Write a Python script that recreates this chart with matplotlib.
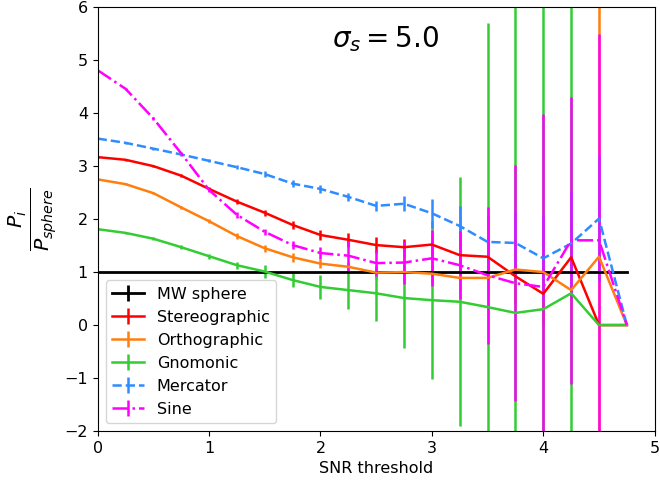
import numpy as np
from matplotlib import pyplot as plt

plt.rcParams["font.size"] = 11.5

# SNR thresholds
snr = [0.0, 0.25, 0.5, 0.75, 1.0, 1.25, 1.5, 1.75, 2.0, 2.25,
       2.5, 2.75, 3.0, 3.25, 3.5, 3.75, 4.0, 4.25, 4.5, 4.75]

# Ratio P_i / P_sphere for each projection
sphere = [1.0] * len(snr)
sphere_err = [0.0] * len(snr)

stereo = [3.17, 3.12, 3.00, 2.82, 2.57, 2.33, 2.12, 1.89, 1.70, 1.61,
          1.51, 1.47, 1.52, 1.32, 1.29, 0.92, 0.59, 1.28, 0.0, 0.0]
stereo_err = [0.01, 0.02, 0.02, 0.03, 0.04, 0.05, 0.06, 0.08, 0.10, 0.13,
              0.15, 0.16, 0.20, 0.25, 0.30, 0.50, 0.60, 0.70, 0.0, 0.0]

ortho = [2.75, 2.66, 2.49, 2.22, 1.96, 1.68, 1.45, 1.28, 1.16, 1.10,
         0.99, 1.00, 0.97, 0.89, 0.89, 1.05, 1.00, 0.66, 1.29, 0.0]
ortho_err = [0.01, 0.02, 0.02, 0.03, 0.04, 0.05, 0.07, 0.08, 0.09, 0.10,
             0.12, 0.14, 0.18, 0.22, 0.30, 0.40, 0.60, 0.80, 5.5, 0.0]

gnomo = [1.81, 1.74, 1.63, 1.47, 1.30, 1.13, 1.01, 0.85, 0.72, 0.66,
         0.60, 0.51, 0.47, 0.44, 0.34, 0.23, 0.30, 0.60, 0.0, 0.0]
gnomo_err = [0.01, 0.02, 0.03, 0.04, 0.05, 0.07, 0.12, 0.13, 0.23, 0.35,
             0.52, 0.95, 1.49, 2.35, 5.36, 6.5, 7.0, 6.5, 0.0, 0.0]

merc = [3.52, 3.44, 3.33, 3.22, 3.10, 2.98, 2.85, 2.67, 2.57, 2.42,
        2.25, 2.29, 2.11, 1.87, 1.57, 1.55, 1.26, 1.54, 2.01, 0.0]
merc_err = [0.01, 0.02, 0.02, 0.03, 0.03, 0.04, 0.05, 0.06, 0.07, 0.08,
            0.09, 0.14, 0.27, 0.37, 0.50, 0.60, 0.80, 1.00, 1.20, 0.0]

sine = [4.81, 4.46, 3.90, 3.24, 2.55, 2.08, 1.76, 1.51, 1.36, 1.31,
        1.17, 1.18, 1.26, 1.13, 0.94, 0.79, 0.72, 1.60, 1.60, 0.0]
sine_err = [0.01, 0.02, 0.03, 0.03, 0.04, 0.05, 0.06, 0.08, 0.12, 0.30,
            0.25, 0.40, 0.53, 0.64, 1.29, 2.23, 3.27, 2.71, 3.90, 0.0]

fig, ax = plt.subplots(figsize=(6.6, 4.8), dpi=100)
fig.subplots_adjust(left=0.148, right=0.992, top=0.985, bottom=0.102)

ax.errorbar(snr, sphere, yerr=sphere_err, color="black", lw=2, label="MW sphere")
ax.errorbar(snr, stereo, yerr=stereo_err, color="#ff0000", lw=1.8, label="Stereographic")
ax.errorbar(snr, ortho, yerr=ortho_err, color="#ff7f0e", lw=1.8, label="Orthographic")
ax.errorbar(snr, gnomo, yerr=gnomo_err, color="#33cc33", lw=1.8, label="Gnomonic")
ax.errorbar(snr, merc, yerr=merc_err, color="#2f8cff", lw=1.8, ls="--", label="Mercator")
ax.errorbar(snr, sine, yerr=sine_err, color="#ff00ff", lw=1.8, ls="-.", label="Sine")

ax.text(2.1, 5.25, r"$\sigma_s = 5.0$", fontsize=20)

ax.set_xlim(0, 5)
ax.set_ylim(-2, 6)
ax.set_xlabel("SNR threshold")
ax.set_ylabel(r"$\frac{P_i}{P_{sphere}}$", fontsize=21)
ax.legend(loc="lower left")

fig.savefig("out.png", dpi=100)
